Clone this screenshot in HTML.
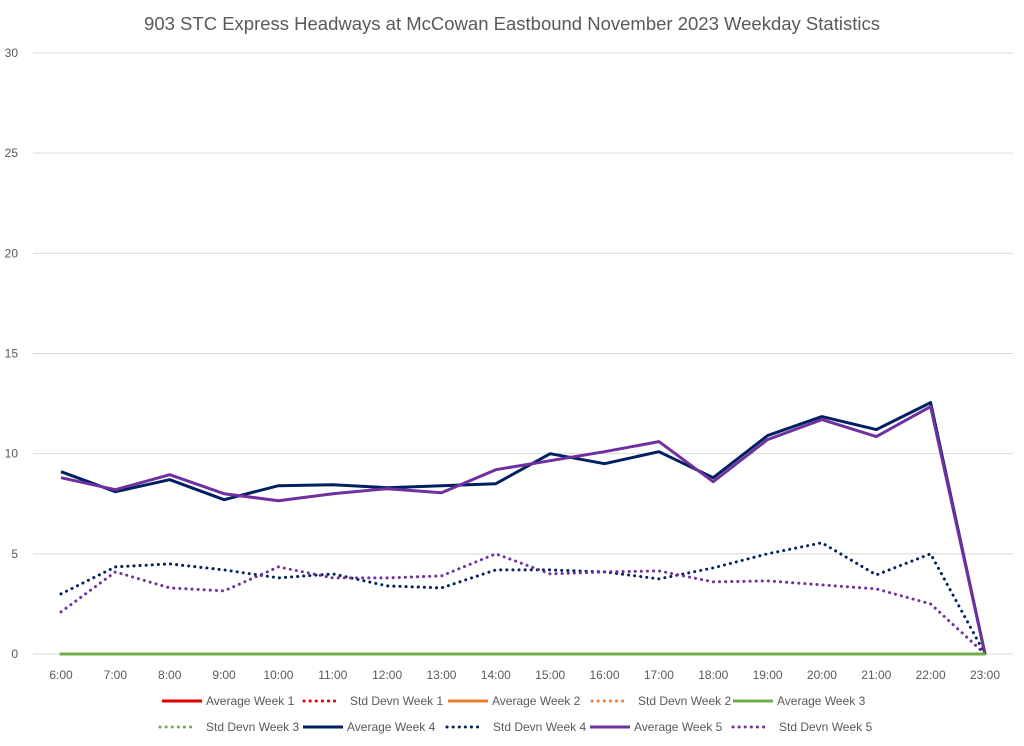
<!DOCTYPE html>
<html><head><meta charset="utf-8"><style>
body{margin:0;background:#fff;font-family:"Liberation Sans",sans-serif;}
text{font-family:"Liberation Sans",sans-serif;fill:#595959;}
</style></head><body>
<svg id="chart" width="1024" height="741" xmlns="http://www.w3.org/2000/svg">
<text x="512" y="30" text-anchor="middle" font-size="18.5">903 STC Express Headways at McCowan Eastbound November 2023 Weekday Statistics</text>
<g id="grid"></g>
<g id="yticks"></g>
<g id="xticks"></g>
<g id="series"></g>
<g id="legend"></g>
</svg>
<script>
const categories=["6:00","7:00","8:00","9:00","10:00","11:00","12:00","13:00","14:00","15:00","16:00","17:00","18:00","19:00","20:00","21:00","22:00","23:00"];
const yTicks=[0,5,10,15,20,25,30];
const zeros=[0,0,0,0,0,0,0,0,0,0,0,0,0,0,0,0,0,0];
const avgWeek4=[9.1,8.1,8.7,7.7,8.4,8.45,8.3,8.4,8.5,10.0,9.5,10.1,8.8,10.9,11.85,11.2,12.55,0];
const avgWeek5=[8.8,8.2,8.95,8.0,7.65,8.0,8.25,8.05,9.2,9.65,10.1,10.6,8.6,10.7,11.7,10.85,12.35,0];
const sdWeek4=[3.0,4.35,4.5,4.2,3.8,4.0,3.4,3.3,4.2,4.2,4.1,3.75,4.3,5.0,5.55,3.95,5.0,0];
const sdWeek5=[2.1,4.1,3.3,3.15,4.35,3.8,3.8,3.9,5.0,4.0,4.1,4.15,3.6,3.65,3.45,3.25,2.5,0];
const NS="http://www.w3.org/2000/svg";
const x=i=>61+i*(924/17);
const y=v=>654-v*(601/30);
function mk(tag,parent,attrs){const e=document.createElementNS(NS,tag);for(const k in attrs)e.setAttribute(k,attrs[k]);parent.appendChild(e);return e;}
const grid=document.getElementById('grid'),yt=document.getElementById('yticks'),xt=document.getElementById('xticks'),ser=document.getElementById('series'),leg=document.getElementById('legend');
yTicks.forEach(t=>{
  const l=mk('line',grid,{x1:33,x2:1013,y1:y(t),y2:y(t),stroke:'#d9d9d9','stroke-width':1});
  
  
  const tx=mk('text',yt,{x:18,y:y(t)+4,'text-anchor':'end','font-size':12});
  tx.textContent=t;
  
  
});
categories.forEach((c,i)=>{
  const tx=mk('text',xt,{x:x(i),y:679,'text-anchor':'middle','font-size':12});
  tx.textContent=c;
  
  
});
const series=[
 {name:'Average Week 1',data:zeros,color:'#e00000',dot:false},
 {name:'Std Devn Week 1',data:zeros,color:'#e00000',dot:true},
 {name:'Average Week 2',data:zeros,color:'#ed7d31',dot:false},
 {name:'Std Devn Week 2',data:zeros,color:'#ed7d31',dot:true},
 {name:'Average Week 3',data:zeros,color:'#70ad47',dot:false},
 {name:'Std Devn Week 3',data:zeros,color:'#70ad47',dot:true},
 {name:'Average Week 4',data:avgWeek4,color:'#002060',dot:false},
 {name:'Std Devn Week 4',data:sdWeek4,color:'#002060',dot:true},
 {name:'Average Week 5',data:avgWeek5,color:'#7030a0',dot:false},
 {name:'Std Devn Week 5',data:sdWeek5,color:'#7030a0',dot:true}
];
const drawOrder=[0,1,2,3,5,7,9,6,8,4];
drawOrder.forEach(k=>{
  const s=series[k];
  const pts=s.data.map((v,i)=>x(i).toFixed(1)+','+y(v).toFixed(1)).join(' ');
  const p=mk('polyline',ser,{points:pts,fill:'none',stroke:s.color,'stroke-width':3,'stroke-linejoin':'round'});
  if(s.dot){p.setAttribute('stroke-dasharray','0.1 6');p.setAttribute('stroke-linecap','round');}
  
  
});
const legPos=[[162,701],[304,701],[448,701],[592,701],[733,701],[160,727],[303,727],[447,727],[590,727],[733,727]];
series.forEach((s,k)=>{
  const [lx,ly]=legPos[k];
  const g=mk('g',leg,{});
  
  
  const len=s.dot?34:40;
  const l=mk('line',g,{x1:lx,x2:lx+len,y1:ly,y2:ly,stroke:s.color,'stroke-width':3});
  if(s.dot){l.setAttribute('stroke-dasharray','0.1 6');l.setAttribute('stroke-linecap','round');}
  const tx=mk('text',g,{x:lx+len+(s.dot?12:4),y:ly+4,'font-size':12});
  tx.textContent=s.name;
});
</script>
</body></html>
